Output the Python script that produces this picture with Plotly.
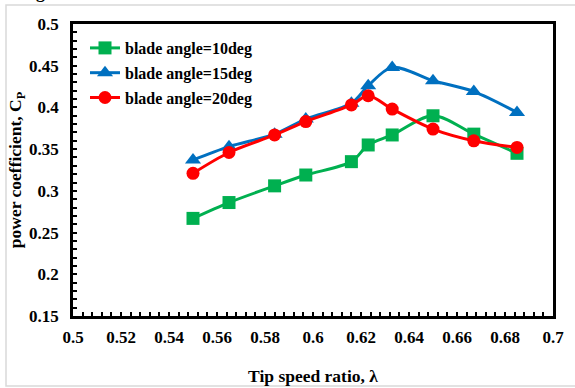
import plotly.graph_objects as go

# Tip speed ratio (lambda) for each measurement
tsr = [0.55, 0.565, 0.584, 0.597, 0.616, 0.623, 0.633, 0.65, 0.667, 0.685]

# Power coefficient Cp for each blade pitch angle
cp_10deg = [0.267, 0.286, 0.306, 0.319, 0.335, 0.355, 0.367, 0.390, 0.368, 0.345]
cp_15deg = [0.337, 0.353, 0.368, 0.386, 0.405, 0.426, 0.448, 0.432, 0.419, 0.394]
cp_20deg = [0.321, 0.346, 0.367, 0.383, 0.403, 0.414, 0.398, 0.374, 0.360, 0.352]

series_names = ["blade angle=10deg", "blade angle=15deg", "blade angle=20deg"]
series_colors = ["#00B050", "#0070C0", "#FF0000"]
series_symbols = ["square", "triangle-up", "circle"]
series_values = [cp_10deg, cp_15deg, cp_20deg]

x_ticks = [0.5, 0.52, 0.54, 0.56, 0.58, 0.6, 0.62, 0.64, 0.66, 0.68, 0.7]
x_ticktext = ["0.5", "0.52", "0.54", "0.56", "0.58", "0.6", "0.62", "0.64", "0.66", "0.68", "0.7"]
y_ticks = [0.15, 0.2, 0.25, 0.3, 0.35, 0.4, 0.45, 0.5]
y_ticktext = ["0.15", "0.2", "0.25", "0.3", "0.35", "0.4", "0.45", "0.5"]

SERIF = "Liberation Serif, Times New Roman, serif"
W, H = 575, 388
ML, MR, MT, MB = 73, 22, 24, 72
PW, PH = W - ML - MR, H - MT - MB


def px_to_paper_x(px):
    return (px - ML) / PW


def px_to_paper_y(py):
    return 1 - (py - MT) / PH


fig = go.Figure()
for name, color, sym, vals in zip(series_names, series_colors, series_symbols, series_values):
    fig.add_trace(go.Scatter(
        x=tsr, y=vals, name=name, mode="lines+markers",
        legendgroup=name,
        line=dict(color=color, width=3, shape="spline", smoothing=0.9),
        marker=dict(color=color, symbol=sym, size=13 if sym != "triangle-up" else 14),
    ))

axis_common = dict(
    showline=True, linecolor="black", linewidth=2.5, mirror=True,
    showgrid=False, zeroline=False,
    ticks="inside", ticklen=4, tickwidth=1.5, tickcolor="black",
    tickfont=dict(family=SERIF, size=17, color="black", weight="bold"),
)

fig.update_xaxes(
    range=[0.5, 0.7], tickvals=x_ticks, ticktext=x_ticktext,
    minor=dict(dtick=0.004, ticks="inside", ticklen=4, tickwidth=1.5, tickcolor="black"),
    ticklabelstandoff=4,
    title=dict(text="Tip speed ratio, λ", font=dict(family=SERIF, size=17.5, color="black", weight="bold"), standoff=24),
    **axis_common,
)
fig.update_yaxes(
    range=[0.15, 0.5], tickvals=y_ticks, ticktext=y_ticktext,
    minor=dict(dtick=0.01, ticks="inside", ticklen=4, tickwidth=1.5, tickcolor="black"),
    ticklabelstandoff=8,
    title=dict(text="power coefficient, C<sub>P</sub>", font=dict(family=SERIF, size=17.5, color="black", weight="bold"), standoff=3),
    **axis_common,
)

fig.update_layout(
    width=W, height=H,
    margin=dict(l=ML, r=MR, t=MT, b=MB, autoexpand=False),
    paper_bgcolor="white", plot_bgcolor="white",
    showlegend=True,
    legend=dict(
        x=px_to_paper_x(85), y=px_to_paper_y(31), xanchor="left", yanchor="top",
        bgcolor="rgba(0,0,0,0)", tracegroupgap=1,
        font=dict(family=SERIF, size=16, color="black", weight="bold"),
        itemwidth=30,
    ),
    shapes=[dict(
        type="rect", xref="paper", yref="paper",
        x0=px_to_paper_x(6), x1=px_to_paper_x(580),
        y0=px_to_paper_y(386), y1=px_to_paper_y(5),
        line=dict(color="#d9d9d9", width=1.5), fillcolor="rgba(0,0,0,0)", layer="below",
    )],
    annotations=[dict(
        text="g", xref="paper", yref="paper", x=px_to_paper_x(40), y=px_to_paper_y(-8),
        xanchor="center", yanchor="middle", showarrow=False,
        font=dict(family=SERIF, size=17.5, color="black", weight="bold"),
    )],
)

fig.write_html("out.html")
